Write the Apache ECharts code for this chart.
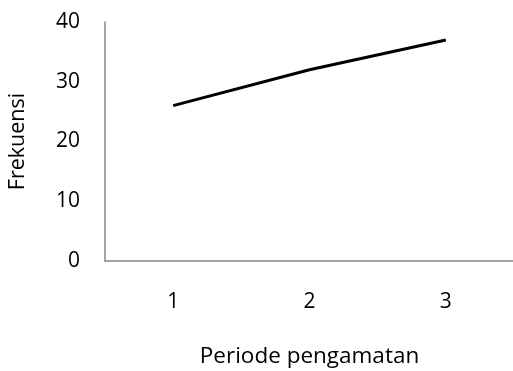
<!DOCTYPE html>
<html>
<head>
<meta charset="utf-8">
<script src="https://cdn.jsdelivr.net/npm/echarts@6/dist/echarts.min.js"></script>
<style>
  html, body { margin: 0; padding: 0; background: #ffffff; }
  #chart { width: 513px; height: 371px; }
</style>
</head>
<body>
<div id="chart"></div>
<script>
// Observation periods and frequency counts
const periods = ['1', '2', '3'];
const frequencies = [26, 32, 37];
const yTicks = { min: 0, max: 40, interval: 10 };

const fontFamily = '"Open Sans", "Liberation Sans", sans-serif';
const chart = echarts.init(document.getElementById('chart'), null, { renderer: 'canvas' });

chart.setOption({
  animation: false,
  grid: { left: 105, right: -1, top: 22, bottom: 110, containLabel: false, outerBoundsMode: 'none' },
  xAxis: {
    type: 'category',
    data: periods,
    boundaryGap: true,
    name: 'Periode pengamatan',
    nameLocation: 'middle',
    nameGap: 96,
    nameTextStyle: { fontFamily, fontSize: 22.5, color: '#000', verticalAlign: 'middle' },
    axisLine: { show: true, lineStyle: { color: '#868686', width: 1.5 } },
    axisTick: { show: false },
    axisLabel: { fontFamily, fontSize: 21, color: '#000', margin: 31 },
    splitLine: { show: false }
  },
  yAxis: {
    type: 'value',
    min: yTicks.min,
    max: yTicks.max,
    interval: yTicks.interval,
    name: 'Frekuensi',
    nameLocation: 'middle',
    nameGap: 87,
    nameRotate: 90,
    nameTextStyle: { fontFamily, fontSize: 21.5, color: '#000', verticalAlign: 'middle' },
    axisLine: { show: true, lineStyle: { color: '#868686', width: 1.5 } },
    axisTick: { show: false },
    axisLabel: { fontFamily, fontSize: 21, color: '#000', margin: 25 },
    splitLine: { show: false }
  },
  series: [{
    type: 'line',
    data: frequencies,
    symbol: 'none',
    lineStyle: { color: '#000', width: 3 }
  }]
});
</script>
</body>
</html>
